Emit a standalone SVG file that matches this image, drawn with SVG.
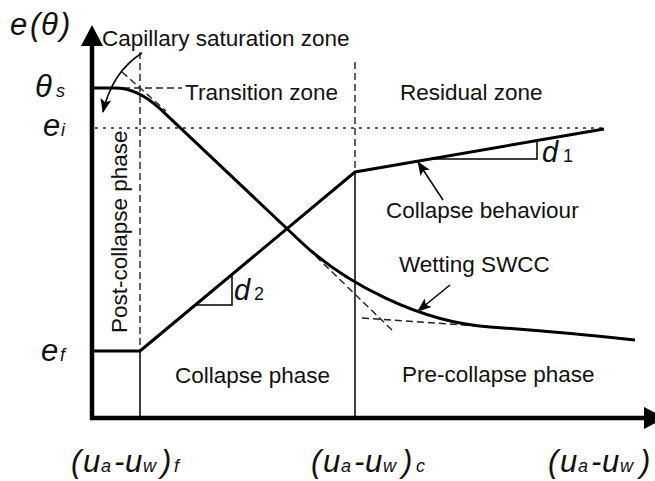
<svg xmlns="http://www.w3.org/2000/svg" width="655" height="481" viewBox="0 0 655 481">
<style>
text{font-family:"Liberation Sans",Arial,sans-serif;fill:#111}
.lbl{font-size:22.5px}
.it{font-style:italic}
.big{font-size:31px}
.sub{font-size:18px}
.axis{stroke:#000;stroke-width:4.5;fill:none}
.curve{stroke:#000;stroke-width:3;fill:none;stroke-linejoin:round}
.thin{stroke:#000;stroke-width:1.5;fill:none}
.dash{stroke:#222;stroke-width:1.4;fill:none;stroke-dasharray:7 4}
.dot{stroke:#222;stroke-width:1.5;fill:none;stroke-dasharray:3 5}
.ptr{stroke:#000;stroke-width:1.5;fill:none;marker-end:url(#ah)}
</style>
<defs>
<marker id="ah" markerUnits="userSpaceOnUse" markerWidth="14" markerHeight="11" refX="13" refY="5.5" orient="auto">
<path d="M0,0 L14,5.5 L0,11 L3,5.5 z" fill="#000"/>
</marker>
<marker id="axh" markerUnits="userSpaceOnUse" markerWidth="22" markerHeight="22" refX="0" refY="11" orient="auto" overflow="visible">
<path d="M0,0 L21,11 L0,22 z" fill="#000"/>
</marker>
</defs>

<g id="axes">
<line class="axis" x1="92" y1="420" x2="92" y2="46" marker-end="url(#axh)"/>
<line class="axis" x1="90" y1="418" x2="644" y2="418" marker-end="url(#axh)"/>
</g>

<g id="guides">
<line class="dash" x1="140" y1="52" x2="140" y2="351"/>
<line class="thin" x1="140" y1="351" x2="140" y2="418"/>
<line class="dash" x1="355" y1="62" x2="355" y2="172"/>
<line class="thin" x1="355" y1="172" x2="355" y2="418"/>
<line class="dot" x1="95" y1="128" x2="602" y2="128"/>
<line class="dash" x1="112" y1="88" x2="182" y2="88"/>
<line class="dash" x1="122" y1="72" x2="166" y2="111"/>
<line class="dash" x1="300" y1="241" x2="392" y2="330"/>
<line class="dash" x1="362" y1="318" x2="500" y2="327.5"/>
<polyline class="thin" points="430,159 537,159 537,140.5"/>
<polyline class="thin" points="195.5,305 232,305 232,274.5"/>
</g>

<g id="curves">
<path id="wetting-swcc" class="curve" d="M92,88 L115,88 Q138,88 161,109.7 L300,241 C345,283.5 420,322.4 490,327 Q560,332 635,340"/>
<polyline id="collapse-line" class="curve" points="92,351 140,351 355,172 604,129"/>
</g>

<g id="connectors">
<path class="ptr" d="M142,53 Q112,72 103,112"/>
<line class="ptr" x1="443" y1="200" x2="418" y2="162"/>
<line class="ptr" x1="450" y1="285" x2="418" y2="311"/>
</g>

<g id="zone-labels">
<text class="lbl" x="102" y="46">Capillary saturation zone</text>
<text class="lbl" x="185" y="100">Transition zone</text>
<text class="lbl" x="400" y="100">Residual zone</text>
<text class="lbl" x="386" y="218">Collapse behaviour</text>
<text class="lbl" x="399" y="272">Wetting SWCC</text>
<text class="lbl" x="175" y="383">Collapse phase</text>
<text class="lbl" x="402" y="382">Pre-collapse phase</text>
<text class="lbl" transform="translate(127,333) rotate(-90)">Post-collapse phase</text>
</g>

<g id="slope-labels">
<text class="it" font-size="29" x="542" y="162">d<tspan class="sub" font-style="normal" x="563">1</tspan></text>
<text class="it" font-size="29" x="234" y="300">d<tspan class="sub" font-style="normal" x="254">2</tspan></text>
</g>

<g id="axis-labels">
<text class="it big" x="10" y="35">e<tspan x="30">(</tspan><tspan x="41">θ</tspan><tspan x="60">)</tspan></text>
<text class="it" font-size="31" x="35" y="97">θ<tspan class="sub" x="56">s</tspan></text>
<text class="it" font-size="31" x="43" y="136">e<tspan class="sub" x="61">i</tspan></text>
<text class="it" font-size="31" x="41" y="361">e<tspan class="sub" x="60">f</tspan></text>
<text class="it big" y="472"><tspan x="71">(</tspan><tspan x="83">u</tspan><tspan class="sub" x="101">a</tspan><tspan x="114">-</tspan><tspan x="125">u</tspan><tspan class="sub" x="143">w</tspan><tspan x="161">)</tspan><tspan class="sub" x="174">f</tspan></text>
<text class="it big" y="472"><tspan x="311">(</tspan><tspan x="323">u</tspan><tspan class="sub" x="341">a</tspan><tspan x="354">-</tspan><tspan x="365">u</tspan><tspan class="sub" x="383">w</tspan><tspan x="402">)</tspan><tspan class="sub" x="416">c</tspan></text>
<text class="it big" y="472"><tspan x="548">(</tspan><tspan x="560">u</tspan><tspan class="sub" x="578">a</tspan><tspan x="591">-</tspan><tspan x="602">u</tspan><tspan class="sub" x="620">w</tspan><tspan x="640">)</tspan></text>
</g>
</svg>
